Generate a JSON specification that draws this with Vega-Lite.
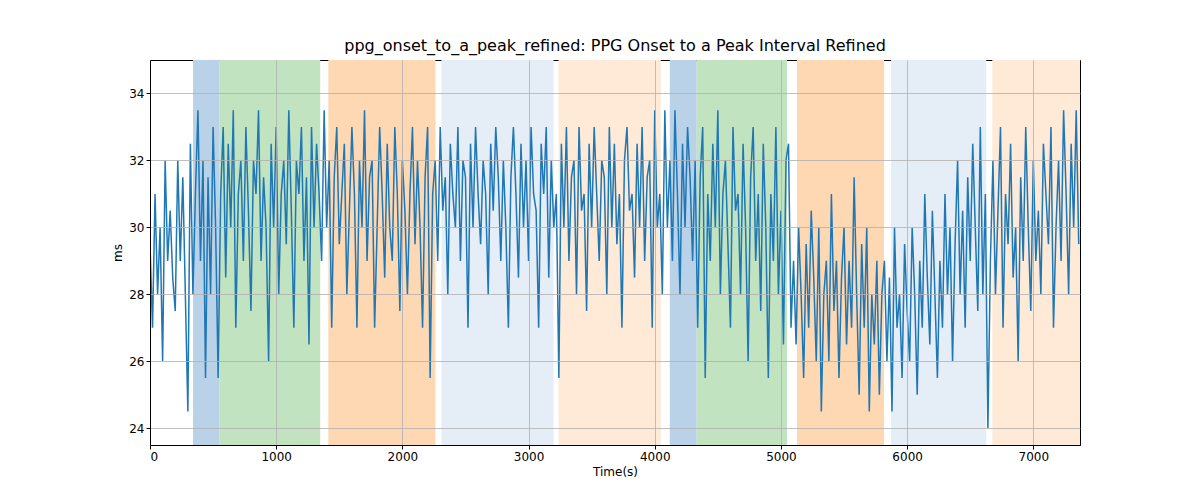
{
  "$schema": "https://vega.github.io/schema/vega-lite/v6.json",
  "width": 930,
  "height": 385,
  "autosize": {"type": "none"},
  "padding": {"left": 150, "top": 60, "right": 120, "bottom": 55},
  "background": "white",
  "config": {
    "font": "DejaVu Sans",
    "view": {"stroke": "black", "strokeWidth": 1},
    "axis": {"labelFontSize": 12, "titleFontSize": 12, "labelColor": "black", "titleColor": "black", "titleFontWeight": "normal", "gridColor": "#b0b0b0", "gridWidth": 0.8, "tickColor": "black", "domainColor": "black", "tickSize": 4}
  },
  "title": {"text": "ppg_onset_to_a_peak_refined: PPG Onset to a Peak Interval Refined", "fontSize": 16, "fontWeight": "normal", "offset": 6},
  "datasets": {
    "bands": [
      {"a": 341, "b": 548, "c": "#bad2e8"},
      {"a": 548, "b": 1349, "c": "#c2e3c0"},
      {"a": 1413, "b": 2262, "c": "#fed8b2"},
      {"a": 2310, "b": 3198, "c": "#e5edf7"},
      {"a": 3238, "b": 4048, "c": "#feead6"},
      {"a": 4119, "b": 4333, "c": "#bad2e8"},
      {"a": 4333, "b": 5048, "c": "#c2e3c0"},
      {"a": 5127, "b": 5817, "c": "#fed8b2"},
      {"a": 5873, "b": 6627, "c": "#e5edf7"},
      {"a": 6675, "b": 7370, "c": "#feead6"}
    ],
    "series": [
      {"t":0,"v":29.5},{"t":20,"v":27},{"t":40,"v":31},{"t":60,"v":28},{"t":80,"v":30},{"t":100,"v":26},{"t":120,"v":32},{"t":140,"v":29},{"t":160,"v":30.5},{"t":180,"v":28.5},
      {"t":200,"v":27.5},{"t":220,"v":32},{"t":240,"v":29},{"t":260,"v":31.5},{"t":280,"v":28},{"t":300,"v":24.5},{"t":320,"v":32.5},{"t":340,"v":28},
      {"t":360,"v":31},{"t":380,"v":33.5},{"t":400,"v":29},{"t":420,"v":32},{"t":440,"v":25.5},{"t":460,"v":31.5},{"t":480,"v":28},{"t":500,"v":33},{"t":520,"v":30},{"t":540,"v":25.5},
      {"t":560,"v":31},{"t":580,"v":33},{"t":600,"v":28.5},{"t":620,"v":32.5},{"t":640,"v":30},{"t":660,"v":33.5},{"t":680,"v":27},{"t":700,"v":31},{"t":720,"v":32},{"t":740,"v":29},
      {"t":760,"v":33},{"t":780,"v":30.5},{"t":800,"v":27.5},{"t":820,"v":32},{"t":840,"v":31},{"t":860,"v":33.5},{"t":880,"v":29},{"t":900,"v":31.5},{"t":920,"v":30},{"t":940,"v":26},
      {"t":960,"v":32.5},{"t":980,"v":30},{"t":1000,"v":33},{"t":1020,"v":28},{"t":1040,"v":31},{"t":1060,"v":32},{"t":1080,"v":29.5},{"t":1100,"v":33.5},{"t":1120,"v":30.5},{"t":1140,"v":27},
      {"t":1160,"v":32},{"t":1180,"v":31},{"t":1200,"v":33},{"t":1220,"v":29},{"t":1240,"v":31.5},{"t":1260,"v":26.5},{"t":1280,"v":33},{"t":1300,"v":30},{"t":1320,"v":32.5},{"t":1340,"v":31},
      {"t":1360,"v":29},{"t":1380,"v":33.5},{"t":1400,"v":30},{"t":1420,"v":32},{"t":1440,"v":27},{"t":1460,"v":31.5},{"t":1480,"v":33},{"t":1500,"v":29.5},{"t":1520,"v":31},{"t":1540,"v":32.5},
      {"t":1560,"v":28},{"t":1580,"v":30.5},{"t":1600,"v":33},{"t":1620,"v":31},{"t":1640,"v":27},{"t":1660,"v":32},{"t":1680,"v":30},{"t":1700,"v":33.5},{"t":1720,"v":29},{"t":1740,"v":31.5},
      {"t":1760,"v":32},{"t":1780,"v":27},{"t":1800,"v":30},{"t":1820,"v":33},{"t":1840,"v":31},{"t":1860,"v":28.5},{"t":1880,"v":32.5},{"t":1900,"v":30},{"t":1920,"v":29},{"t":1940,"v":33},
      {"t":1960,"v":31},{"t":1980,"v":27.5},{"t":2000,"v":32},{"t":2020,"v":30.5},{"t":2040,"v":28},{"t":2060,"v":31},{"t":2080,"v":33},{"t":2100,"v":29.5},{"t":2120,"v":32},{"t":2140,"v":30},
      {"t":2160,"v":27},{"t":2180,"v":31.5},{"t":2200,"v":33},{"t":2220,"v":25.5},{"t":2240,"v":31},
      {"t":2260,"v":32},{"t":2280,"v":29},{"t":2300,"v":33},{"t":2320,"v":30.5},{"t":2340,"v":31.5},{"t":2360,"v":28},{"t":2380,"v":32.5},{"t":2400,"v":31},{"t":2420,"v":30},{"t":2440,"v":33},
      {"t":2460,"v":29},{"t":2480,"v":32},{"t":2500,"v":31.5},{"t":2520,"v":27},{"t":2540,"v":32.5},{"t":2560,"v":30},{"t":2580,"v":33},{"t":2600,"v":31},{"t":2620,"v":29.5},{"t":2640,"v":32},
      {"t":2660,"v":31},{"t":2680,"v":28},{"t":2700,"v":32.5},{"t":2720,"v":30.5},{"t":2740,"v":33},{"t":2760,"v":31.5},{"t":2780,"v":29},{"t":2800,"v":32},{"t":2820,"v":30},{"t":2840,"v":27},
      {"t":2860,"v":31.5},{"t":2880,"v":33},{"t":2900,"v":31},{"t":2920,"v":28.5},{"t":2940,"v":32.5},{"t":2960,"v":30},{"t":2980,"v":32},{"t":3000,"v":29},{"t":3020,"v":33},{"t":3040,"v":31},
      {"t":3060,"v":30.5},{"t":3080,"v":27},{"t":3100,"v":32.5},{"t":3120,"v":31},{"t":3140,"v":33},{"t":3160,"v":28.5},{"t":3180,"v":32},{"t":3200,"v":30},
      {"t":3220,"v":31},{"t":3240,"v":25.5},{"t":3260,"v":32.5},{"t":3280,"v":30},{"t":3300,"v":33},{"t":3320,"v":29},{"t":3340,"v":31.5},{"t":3360,"v":32},{"t":3380,"v":28},{"t":3400,"v":33},
      {"t":3420,"v":30.5},{"t":3440,"v":31},{"t":3460,"v":27.5},{"t":3480,"v":32.5},{"t":3500,"v":30},{"t":3520,"v":33},{"t":3540,"v":31},{"t":3560,"v":29},{"t":3580,"v":32},{"t":3600,"v":31.5},
      {"t":3620,"v":28},{"t":3640,"v":33},{"t":3660,"v":30},{"t":3680,"v":32.5},{"t":3700,"v":29.5},{"t":3720,"v":31},{"t":3740,"v":27},{"t":3760,"v":32},{"t":3780,"v":33},{"t":3800,"v":30.5},
      {"t":3820,"v":31},{"t":3840,"v":28.5},{"t":3860,"v":32.5},{"t":3880,"v":30},{"t":3900,"v":33},{"t":3920,"v":29},{"t":3940,"v":31.5},{"t":3960,"v":32},{"t":3980,"v":27},{"t":4000,"v":33.5},
      {"t":4020,"v":30},{"t":4040,"v":31},{"t":4060,"v":28},
      {"t":4080,"v":33.5},{"t":4100,"v":30},{"t":4120,"v":32},{"t":4140,"v":29},{"t":4160,"v":33.5},{"t":4180,"v":31},{"t":4200,"v":28},{"t":4220,"v":32.5},{"t":4240,"v":30},{"t":4260,"v":33},
      {"t":4280,"v":31.5},{"t":4300,"v":29},
      {"t":4320,"v":32},{"t":4340,"v":27},{"t":4360,"v":31.5},{"t":4380,"v":33},{"t":4400,"v":25.5},{"t":4420,"v":31},{"t":4440,"v":29},{"t":4460,"v":32.5},{"t":4480,"v":30},{"t":4500,"v":33.5},
      {"t":4520,"v":28},{"t":4540,"v":31},{"t":4560,"v":32},{"t":4580,"v":29.5},{"t":4600,"v":27},{"t":4620,"v":33},{"t":4640,"v":30.5},{"t":4660,"v":31},{"t":4680,"v":28},{"t":4700,"v":32.5},
      {"t":4720,"v":30},{"t":4740,"v":26},{"t":4760,"v":31.5},{"t":4780,"v":33},{"t":4800,"v":29},{"t":4820,"v":31},{"t":4840,"v":27.5},{"t":4860,"v":32.5},{"t":4880,"v":30},{"t":4900,"v":25.5},
      {"t":4920,"v":31},{"t":4940,"v":29},{"t":4960,"v":33},{"t":4980,"v":28},{"t":5000,"v":30.5},{"t":5020,"v":26.5},{"t":5040,"v":32},
      {"t":5060,"v":32.5},{"t":5080,"v":27},{"t":5100,"v":29},{"t":5120,"v":26.5},{"t":5140,"v":30},{"t":5160,"v":28},{"t":5180,"v":25.5},{"t":5200,"v":29.5},{"t":5220,"v":27},{"t":5240,"v":30.5},
      {"t":5260,"v":28.5},{"t":5280,"v":26},{"t":5300,"v":30},{"t":5320,"v":24.5},{"t":5340,"v":28},{"t":5360,"v":29},{"t":5380,"v":26},{"t":5400,"v":31},{"t":5420,"v":27.5},{"t":5440,"v":29},
      {"t":5460,"v":25.5},{"t":5480,"v":28.5},{"t":5500,"v":30},{"t":5520,"v":26.5},{"t":5540,"v":29},{"t":5560,"v":27},{"t":5580,"v":31.5},{"t":5600,"v":28},{"t":5620,"v":25},{"t":5640,"v":29.5},
      {"t":5660,"v":27},{"t":5680,"v":30},{"t":5700,"v":24.5},{"t":5720,"v":28},{"t":5740,"v":26.5},{"t":5760,"v":29},{"t":5780,"v":25},{"t":5800,"v":28},
      {"t":5820,"v":29},{"t":5840,"v":26},{"t":5860,"v":28.5},{"t":5880,"v":24.5},{"t":5900,"v":30},{"t":5920,"v":27},{"t":5940,"v":28},{"t":5960,"v":25.5},{"t":5980,"v":29.5},{"t":6000,"v":27.5},
      {"t":6020,"v":26},{"t":6040,"v":30},{"t":6060,"v":28},{"t":6080,"v":25},{"t":6100,"v":29},{"t":6120,"v":27},{"t":6140,"v":31},{"t":6160,"v":28.5},{"t":6180,"v":26.5},{"t":6200,"v":30.5},
      {"t":6220,"v":28},{"t":6240,"v":25.5},{"t":6260,"v":29},{"t":6280,"v":27},{"t":6300,"v":31},{"t":6320,"v":28},{"t":6340,"v":30},{"t":6360,"v":26},{"t":6380,"v":29.5},{"t":6400,"v":32},
      {"t":6420,"v":28},{"t":6440,"v":30.5},{"t":6460,"v":27},{"t":6480,"v":31.5},{"t":6500,"v":29},{"t":6520,"v":32.5},{"t":6540,"v":30},{"t":6560,"v":27.5},{"t":6580,"v":33},{"t":6600,"v":28},
      {"t":6620,"v":31},{"t":6640,"v":24},{"t":6660,"v":29},
      {"t":6680,"v":32},{"t":6700,"v":28},{"t":6720,"v":30.5},{"t":6740,"v":33},{"t":6760,"v":27},{"t":6780,"v":31},{"t":6800,"v":29.5},{"t":6820,"v":32.5},{"t":6840,"v":28.5},{"t":6860,"v":30},
      {"t":6880,"v":26},{"t":6900,"v":31.5},{"t":6920,"v":29},{"t":6940,"v":33},{"t":6960,"v":30},{"t":6980,"v":27.5},{"t":7000,"v":32},{"t":7020,"v":29},{"t":7040,"v":30.5},{"t":7060,"v":28},
      {"t":7080,"v":32.5},{"t":7100,"v":31},{"t":7120,"v":29.5},{"t":7140,"v":33},{"t":7160,"v":27},{"t":7180,"v":30},{"t":7200,"v":32},{"t":7220,"v":29},{"t":7240,"v":33.5},{"t":7260,"v":31},
      {"t":7280,"v":28},{"t":7300,"v":32.5},{"t":7320,"v":30},{"t":7340,"v":33.5},{"t":7360,"v":29.5}
    ]
  },
  "layer": [
    {
      "data": {"name": "bands"},
      "mark": {"type": "rect", "y": 0, "y2": 385},
      "encoding": {
        "x": {"field": "a", "type": "quantitative", "scale": {"domain": [0, 7370], "nice": false, "zero": false}},
        "x2": {"field": "b"},
        "fill": {"field": "c", "type": "nominal", "scale": null}
      }
    },
    {
      "data": {"name": "series"},
      "mark": {"type": "line", "color": "#1f77b4", "strokeWidth": 1.5, "clip": true},
      "encoding": {
        "x": {"field": "t", "type": "quantitative", "title": "Time(s)", "scale": {"domain": [0, 7370], "nice": false, "zero": false}, "axis": {"values": [0,1000,2000,3000,4000,5000,6000,7000], "grid": true, "format": "d", "zindex": 1}},
        "y": {"field": "v", "type": "quantitative", "title": "ms", "scale": {"domain": [23.5, 35], "nice": false, "zero": false}, "axis": {"values": [24,26,28,30,32,34], "grid": true, "zindex": 1}}
      }
    }
  ]
}
